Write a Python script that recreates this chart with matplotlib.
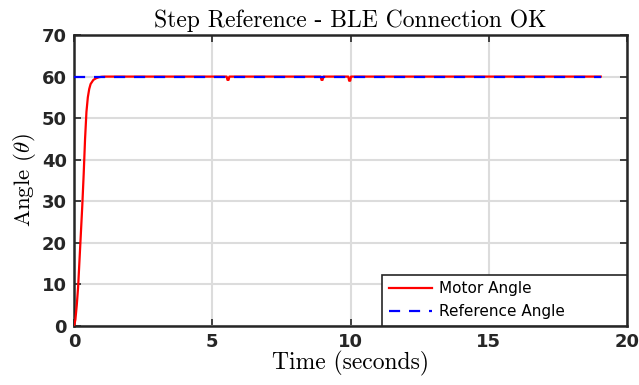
import matplotlib
matplotlib.use("Agg")
import matplotlib.pyplot as plt

# Motor angle: rise then hold at 60 with small dips
t_motor = [0.0, 0.05, 0.10, 0.15, 0.20, 0.25, 0.30, 0.35, 0.40, 0.45, 0.50, 0.55, 0.60, 0.70, 0.80, 0.90, 1.00, 1.15,
           5.52, 5.55, 5.59, 5.62,
           8.92, 8.95, 8.99, 9.02,
           9.92, 9.95, 9.99, 10.02,
           19.05]
angle_motor = [0.0, 1.5, 5.0, 9.5, 16.0, 22.5, 29.0, 36.5, 45.0, 51.5, 55.0, 57.0, 58.2, 59.2, 59.6, 59.85, 59.95, 60.0,
               60.0, 59.2, 59.2, 60.0,
               60.0, 59.2, 59.2, 60.0,
               60.0, 59.0, 59.0, 60.0,
               60.0]
t_ref = [0.0, 19.05]
angle_ref = [60.0, 60.0]

xticks = [0, 5, 10, 15, 20]
yticks = [0, 10, 20, 30, 40, 50, 60, 70]

plt.rcParams['mathtext.fontset'] = 'cm'
plt.rcParams['axes.unicode_minus'] = False

fig = plt.figure(figsize=(6.39, 3.85), dpi=100)
ax = fig.add_axes([74/639, 1 - 326/385, (627-74)/639, (326-35)/385])

ax.plot(t_motor, angle_motor, color='red', lw=1.6, label='Motor Angle', zorder=3)
ax.plot(t_ref, angle_ref, color='blue', lw=1.6, ls=(0, (5, 4)), label='Reference Angle', zorder=4)

ax.set_xlim(0, 20)
ax.set_ylim(0, 70)
ax.set_xticks(xticks)
ax.set_yticks(yticks)
ax.grid(True, color='#dcdcdc', lw=1.5)
ax.set_axisbelow(True)
for s in ax.spines.values():
    s.set_linewidth(1.8)
    s.set_color('#262626')
ax.tick_params(direction='in', length=5, width=1.2, top=True, right=True, color='#262626')
for lab in ax.get_xticklabels() + ax.get_yticklabels():
    lab.set_fontfamily('DejaVu Sans')
    lab.set_fontweight('bold')
    lab.set_fontsize(13)
    lab.set_color('#262626')
ax.tick_params(axis='x', pad=5)
ax.tick_params(axis='y', pad=5)

ax.set_title('Step Reference - BLE Connection OK', fontfamily='cmr10', fontsize=17, pad=6)
ax.set_xlabel('Time (seconds)', fontfamily='cmr10', fontsize=17, labelpad=0)
ax.set_ylabel(r'Angle ($\theta$)', fontfamily='cmr10', fontsize=16.5, labelpad=3)

x0 = (382 - 74) / 553
leg = ax.legend(loc='lower left', bbox_to_anchor=(x0, 0.0, 1 - x0, 0.18), mode='expand',
                prop={'family': 'DejaVu Sans', 'size': 11},
                frameon=True, fancybox=False, borderaxespad=0.0, handlelength=2.8, handletextpad=0.45,
                borderpad=0.45, labelspacing=0.5)
leg.get_frame().set_edgecolor('#262626')
leg.get_frame().set_linewidth(1.2)
leg.get_frame().set_alpha(1)

fig.savefig('out.png', dpi=100)
